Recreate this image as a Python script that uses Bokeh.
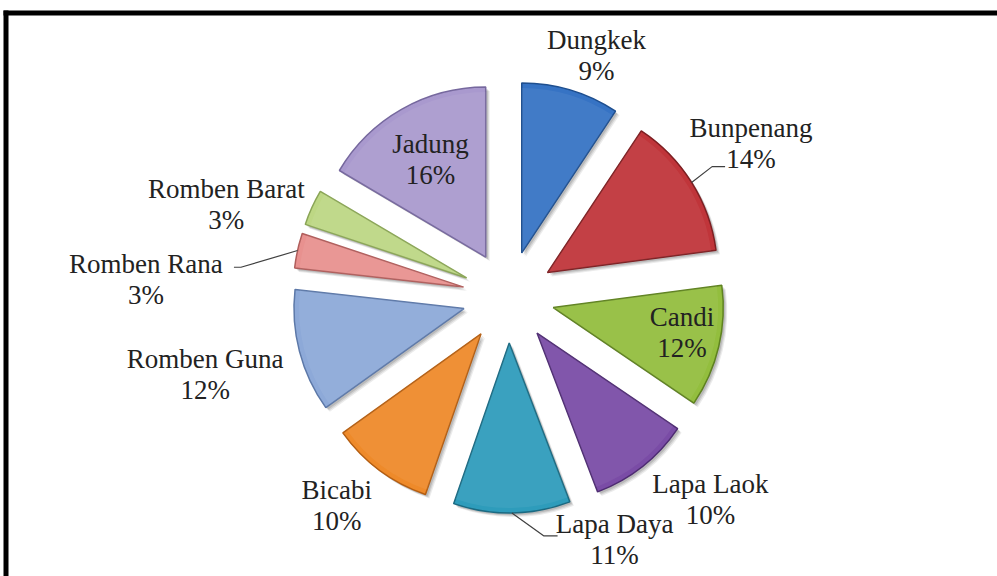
import math
from bokeh.plotting import figure
from bokeh.models import Range1d
from bokeh.core.properties import value
from bokeh.embed import file_html
from bokeh.resources import INLINE

# ---------------- data ----------------
categories = ["Dungkek", "Bunpenang", "Candi", "Lapa Laok", "Lapa Daya",
              "Bicabi", "Romben Guna", "Romben Rana", "Romben Barat", "Jadung"]
values = [9.3, 13.6, 11.6, 9.7, 11.1, 9.8, 11.7, 3.3, 3.4, 16.5]
pct_labels = ["9%", "14%", "12%", "10%", "11%", "10%", "12%", "3%", "3%", "16%"]

# ---------------- styles ----------------
fill_colors = ["#3673C4", "#C0353A", "#93BE3E", "#7A4CA6", "#2E9CBB",
               "#EE8A2A", "#8DA9D8", "#E8918F", "#BDD784", "#A999CE"]
edge_colors = ["#1F4F8F", "#7E1F22", "#5F8220", "#4E2C72", "#1B6A82",
               "#B45E12", "#5C78A8", "#B05E5C", "#8AA556", "#76689E"]

# ---------------- layout (pixels) ----------------
W, H = 997, 576
def sy(y_screen):
    return H - y_screen

CX, CY = 508.0, sy(296.5)
R = 170.0
EXPLODE = 46.0

# label placement, polar around the pie centre (degrees, px)
label_angle = [70.0, 32.3, -11.6, -45.1, -66.4, -129.5, -165.7, 177.2, 161.8, 119.6]
label_dist = [257, 287, 177, 286, 265, 270, 313, 363, 297, 158]
LINE_GAP = 31

# leader lines: slice index, end offset from label centre (dx, dy screen), elbow dx
leader_idx = [1, 7, 4]
leader_end = [(-26, 23), (88, -12), (-57, -4)]
leader_elbow_dx = [-13, 7, -14]

p = figure(width=W, height=H, x_range=Range1d(0, W), y_range=Range1d(0, H),
           output_backend="svg", toolbar_location=None, tools="", min_border=0)
p.axis.visible = False
p.grid.visible = False
p.outline_line_color = None
p.background_fill_color = "white"
p.border_fill_color = "white"

total = float(sum(values))
starts, ends, mids = [], [], []
acc = 0.0
for v in values:
    f0 = acc / total
    acc += v
    f1 = acc / total
    a0 = math.pi / 2 - 2 * math.pi * f0
    a1 = math.pi / 2 - 2 * math.pi * f1
    starts.append(a1)
    ends.append(a0)
    mids.append((a0 + a1) / 2)

xs = [CX + EXPLODE * math.cos(m) for m in mids]
ys = [CY + EXPLODE * math.sin(m) for m in mids]

# soft shadow
for dx, dy, al in [(4, -4, 0.08), (3, -3, 0.10), (2, -2, 0.12)]:
    p.wedge(x=[x + dx for x in xs], y=[y + dy for y in ys], radius=R,
            start_angle=starts, end_angle=ends, direction="anticlock",
            fill_color="#000000", fill_alpha=al, line_color=None)

p.wedge(x=xs, y=ys, radius=R, start_angle=starts, end_angle=ends,
        direction="anticlock", fill_color=fill_colors, line_color=edge_colors,
        line_width=1.5)
# subtle inner highlight to suggest bevel
p.wedge(x=xs, y=ys, radius=R - 5, start_angle=starts, end_angle=ends,
        direction="anticlock", fill_color="white", fill_alpha=0.06, line_color=None)

# labels
lx = [CX + d * math.cos(math.radians(a)) for a, d in zip(label_angle, label_dist)]
ly = [CY + d * math.sin(math.radians(a)) for a, d in zip(label_angle, label_dist)]
font = value("Liberation Serif")
p.text(x=lx, y=[y + LINE_GAP / 2 for y in ly], text=categories, text_font=font,
       text_font_size="27px", text_align="center", text_baseline="middle",
       text_color="#222222")
p.text(x=lx, y=[y - LINE_GAP / 2 for y in ly], text=pct_labels, text_font=font,
       text_font_size="27px", text_align="center", text_baseline="middle",
       text_color="#222222")

# leader lines
for i, (ex, ey), edx in zip(leader_idx, leader_end, leader_elbow_dx):
    sx0 = xs[i] + R * math.cos(mids[i])
    sy0 = ys[i] + R * math.sin(mids[i])
    exx = lx[i] + ex
    eyy = ly[i] - ey
    p.line(x=[sx0, exx + edx, exx], y=[sy0, eyy, eyy], line_color="#404040", line_width=1.2)

# frame
p.line(x=[3, W], y=[sy(12.5), sy(12.5)], line_color="black", line_width=5)
p.line(x=[5.5, 5.5], y=[sy(10), 0], line_color="black", line_width=5)

open("out.html", "w").write(file_html(p, INLINE))
